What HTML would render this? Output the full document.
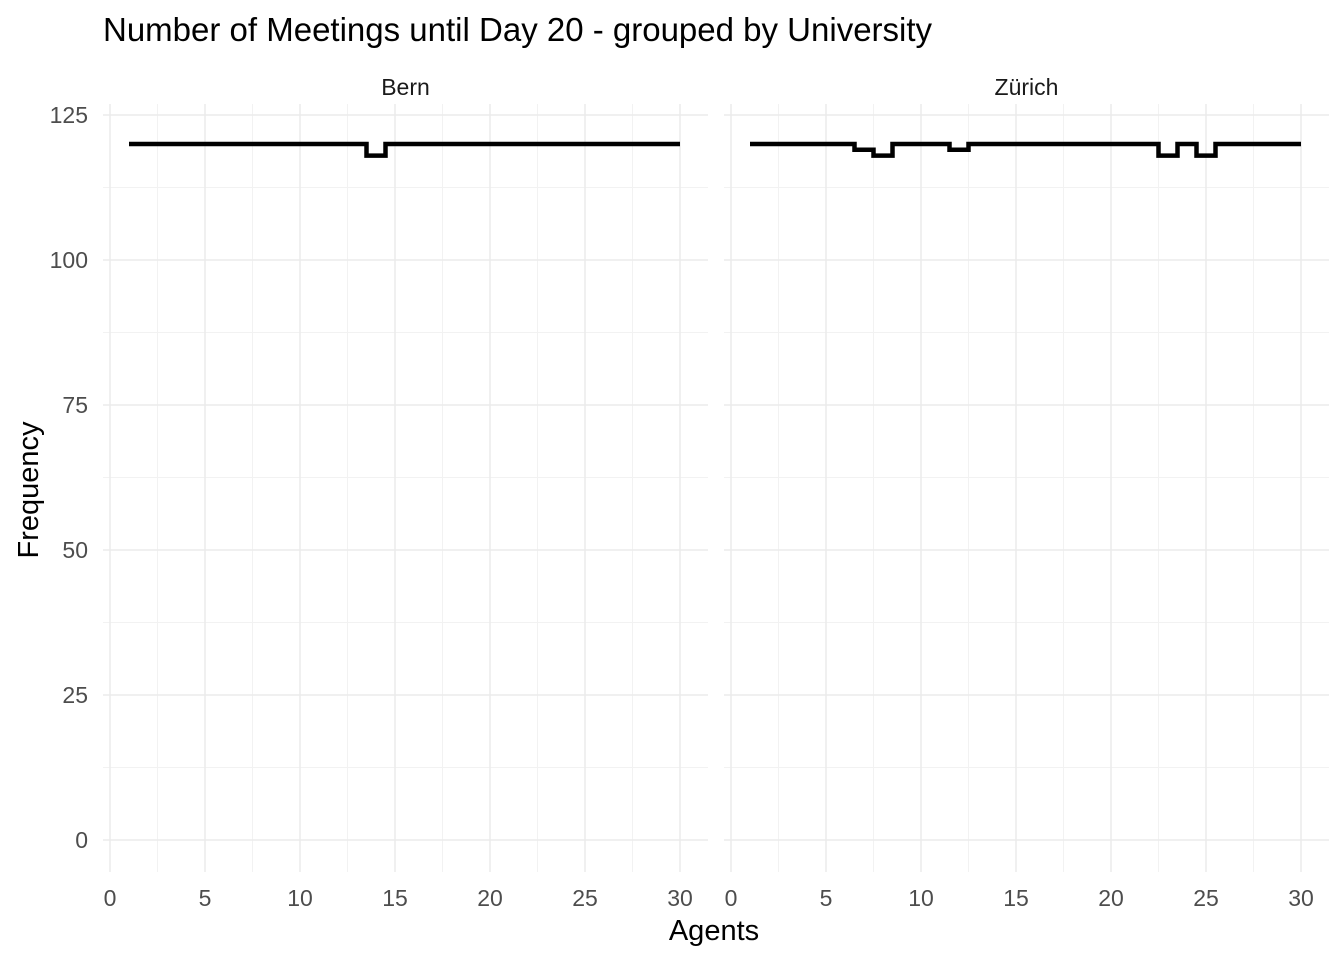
<!DOCTYPE html>
<html><head><meta charset="utf-8"><style>
body{margin:0;background:#fff;}
svg text{font-family:"Liberation Sans",Arial,sans-serif;}
</style></head><body>
<svg id="chart" width="1344" height="960" xmlns="http://www.w3.org/2000/svg">
<rect width="1344" height="960" fill="#fff"/>
<text x="103" y="41" font-size="33" fill="#000">Number of Meetings until Day 20 - grouped by University</text>
<g id="panels"></g>
<text x="714" y="940" font-size="29" text-anchor="middle" fill="#000">Agents</text>
<text transform="translate(38,490) rotate(-90)" font-size="29" text-anchor="middle" fill="#000">Frequency</text>
</svg>
<script>
const panelNames = ["Bern", "Zürich"];
const agents = [1,2,3,4,5,6,7,8,9,10,11,12,13,14,15,16,17,18,19,20,21,22,23,24,25,26,27,28,29,30];
const bernValues = [120,120,120,120,120,120,120,120,120,120,120,120,120,118,120,120,120,120,120,120,120,120,120,120,120,120,120,120,120,120];
const zurichValues = [120,120,120,120,120,120,119,118,120,120,120,119,120,120,120,120,120,120,120,120,120,120,118,120,118,120,120,120,120,120];
const xTicks = [0,5,10,15,20,25,30];
const yTicks = [0,25,50,75,100,125];

const NS = "http://www.w3.org/2000/svg";
const g = document.getElementById("panels");
const series = [bernValues, zurichValues];
const panelX0 = [110, 731];
const panelLeft = [103, 724];
const panelW = 605;
const y = v => 840 - v * 5.8;
function mk(tag, attrs, parent) {
  const e = document.createElementNS(NS, tag);
  for (const k in attrs) e.setAttribute(k, attrs[k]);
  (parent || g).appendChild(e);
  return e;
}
panelNames.forEach((name, p) => {
  const x = v => panelX0[p] + v * 19;
  const pg = mk("g", {});
  
  
  for (let v = 12.5; v < 130; v += 25) {
    const l = mk("line", {x1: panelLeft[p], x2: panelLeft[p] + panelW, y1: y(v), y2: y(v), stroke: "#f2f2f2", "stroke-width": 1}, pg);
    
    
  }
  for (let v = 2.5; v < 31; v += 5) {
    const l = mk("line", {x1: x(v), x2: x(v), y1: 104, y2: 872, stroke: "#f2f2f2", "stroke-width": 1}, pg);
    
    
  }
  yTicks.forEach(t => {
    const l = mk("line", {x1: panelLeft[p], x2: panelLeft[p] + panelW, y1: y(t), y2: y(t), stroke: "#ebebeb", "stroke-width": 1.5}, pg);
    
    
    if (p === 0) {
      const tx = mk("text", {x: 88, y: y(t) + 8, "font-size": 23, "text-anchor": "end", fill: "#4d4d4d"}, pg);
      tx.textContent = t;
      
      
    }
  });
  xTicks.forEach(t => {
    const l = mk("line", {x1: x(t), x2: x(t), y1: 104, y2: 872, stroke: "#ebebeb", "stroke-width": 1.5}, pg);
    
    
    const tx = mk("text", {x: x(t), y: 906, "font-size": 23, "text-anchor": "middle", fill: "#4d4d4d"}, pg);
    tx.textContent = t;
    
    
  });
  const st = mk("text", {x: panelLeft[p] + panelW / 2, y: 95, "font-size": 23, "text-anchor": "middle", fill: "#1a1a1a"}, pg);
  st.textContent = name;
  
  
  const vals = series[p];
  let d = "M" + x(agents[0]) + "," + y(vals[0]);
  for (let i = 1; i < agents.length; i++) {
    const mx = x((agents[i - 1] + agents[i]) / 2);
    d += " H" + mx + " V" + y(vals[i]);
  }
  d += " H" + x(agents[agents.length - 1]);
  const path = mk("path", {d: d, fill: "none", stroke: "#000", "stroke-width": 4.5, "stroke-linejoin": "miter"}, pg);
  
  
});
</script>
</body></html>
